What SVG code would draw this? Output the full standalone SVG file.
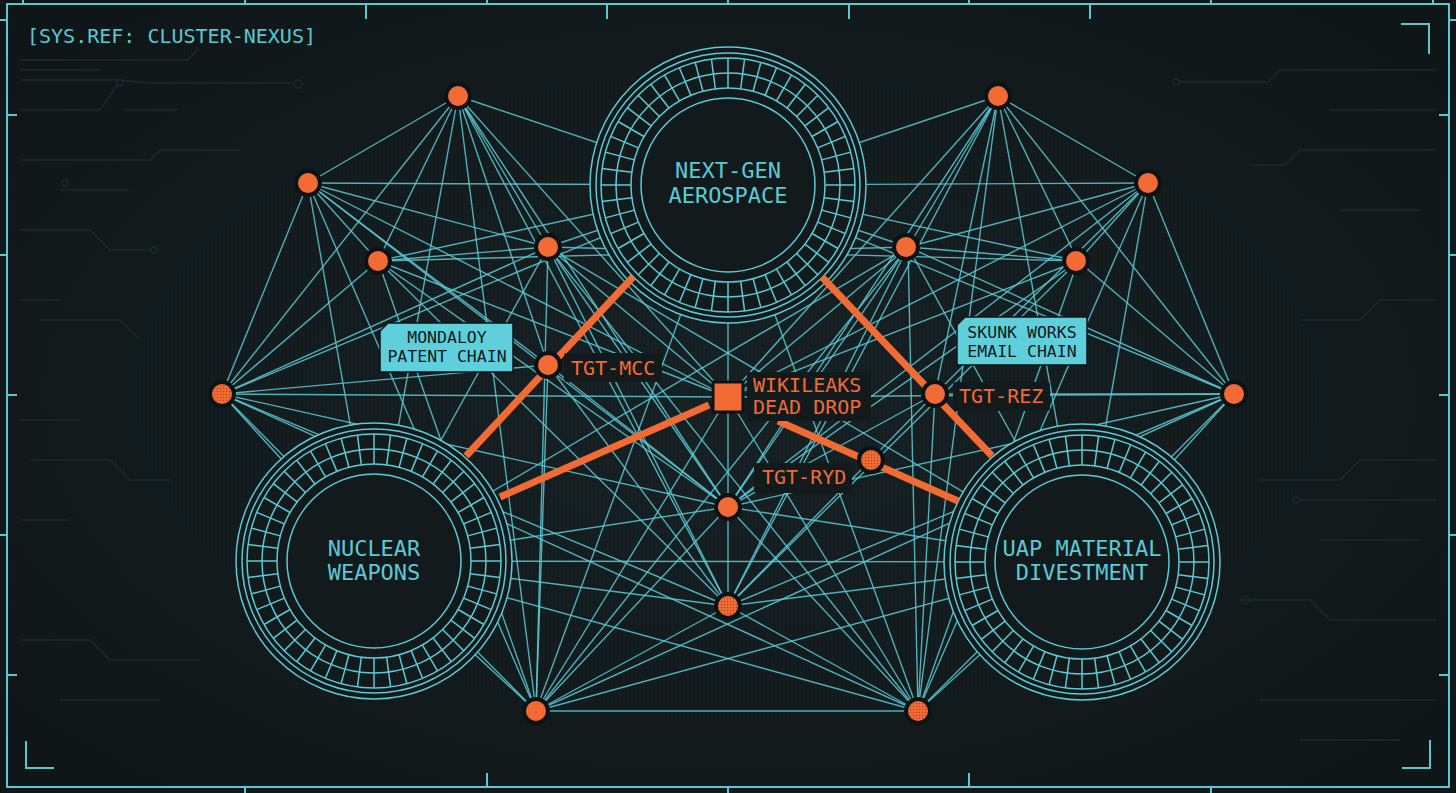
<svg xmlns="http://www.w3.org/2000/svg" xmlns:xlink="http://www.w3.org/1999/xlink" width="1456" height="793" viewBox="0 0 1456 793">
<defs>
<style>
.bd{fill:none;stroke:#5cc6d2;stroke-width:2}
.tr{fill:none;stroke:#1d2b2e;stroke-width:1.5}
.ln{stroke:#5ccad6;stroke-width:1.4;opacity:0.85}
.rg{fill:none;stroke:#5ccad6;stroke-width:1.5}
.rf{fill:#121a1c;stroke:#5ccad6;stroke-width:1.5}
.or{stroke:#f26b35;stroke-width:7;stroke-linecap:butt}
.nd{fill:#f26b35;stroke:#0d1315;stroke-width:4}
.tx{font-family:"DejaVu Sans Mono","Liberation Mono",monospace}
.t-ring{font-size:22px;fill:#5ccad6;text-anchor:middle}
.t-box{font-size:16.5px;fill:#0e1a1d;text-anchor:middle}
.t-or{font-size:20px;fill:#f26b35}
.t-sys{font-size:20px;fill:#5cc6d2}
.box{fill:#5fcfdb;stroke:#0d1315;stroke-width:1.5}
.dk{fill:#121a1c}
</style>
<radialGradient id="bgg" cx="50%" cy="50%" r="70%">
<stop offset="0" stop-color="#182224"/>
<stop offset="1" stop-color="#0f1618"/>
</radialGradient>
<pattern id="dots" width="4" height="4" patternUnits="userSpaceOnUse">
<circle cx="2" cy="2" r="0.8" fill="#070c0d" opacity="0.55"/>
</pattern>
<pattern id="ndots" width="3" height="3" patternUnits="userSpaceOnUse">
<circle cx="1.5" cy="1.5" r="0.7" fill="#7a2a10" opacity="0.6"/>
</pattern>
<line id="sk" x1="0" y1="-97" x2="0" y2="-127" class="rg" stroke-width="1.2"/>
<g id="ring">
<circle r="138" class="rf"/>
<circle r="132" class="rg"/>
<circle r="127" class="rg"/>
<circle r="112" class="rg" stroke-width="1.2"/>
<circle r="97" class="rg"/>
<circle r="87" class="rg" stroke-width="2.5"/>
<use href="#sk"/><use href="#sk" transform="rotate(7.5)"/><use href="#sk" transform="rotate(15)"/><use href="#sk" transform="rotate(22.5)"/>
<use href="#sk" transform="rotate(30)"/><use href="#sk" transform="rotate(37.5)"/><use href="#sk" transform="rotate(45)"/><use href="#sk" transform="rotate(52.5)"/>
<use href="#sk" transform="rotate(60)"/><use href="#sk" transform="rotate(67.5)"/><use href="#sk" transform="rotate(75)"/><use href="#sk" transform="rotate(82.5)"/>
<use href="#sk" transform="rotate(90)"/><use href="#sk" transform="rotate(97.5)"/><use href="#sk" transform="rotate(105)"/><use href="#sk" transform="rotate(112.5)"/>
<use href="#sk" transform="rotate(120)"/><use href="#sk" transform="rotate(127.5)"/><use href="#sk" transform="rotate(135)"/><use href="#sk" transform="rotate(142.5)"/>
<use href="#sk" transform="rotate(150)"/><use href="#sk" transform="rotate(157.5)"/><use href="#sk" transform="rotate(165)"/><use href="#sk" transform="rotate(172.5)"/>
<use href="#sk" transform="rotate(180)"/><use href="#sk" transform="rotate(187.5)"/><use href="#sk" transform="rotate(195)"/><use href="#sk" transform="rotate(202.5)"/>
<use href="#sk" transform="rotate(210)"/><use href="#sk" transform="rotate(217.5)"/><use href="#sk" transform="rotate(225)"/><use href="#sk" transform="rotate(232.5)"/>
<use href="#sk" transform="rotate(240)"/><use href="#sk" transform="rotate(247.5)"/><use href="#sk" transform="rotate(255)"/><use href="#sk" transform="rotate(262.5)"/>
<use href="#sk" transform="rotate(270)"/><use href="#sk" transform="rotate(277.5)"/><use href="#sk" transform="rotate(285)"/><use href="#sk" transform="rotate(292.5)"/>
<use href="#sk" transform="rotate(300)"/><use href="#sk" transform="rotate(307.5)"/><use href="#sk" transform="rotate(315)"/><use href="#sk" transform="rotate(322.5)"/>
<use href="#sk" transform="rotate(330)"/><use href="#sk" transform="rotate(337.5)"/><use href="#sk" transform="rotate(345)"/><use href="#sk" transform="rotate(352.5)"/>
</g>
</defs>

<g id="background">
<rect width="1456" height="793" fill="url(#bgg)"/>
<rect width="1456" height="793" fill="url(#dots)"/>
<path class="tr" d="M20 60 H188 L198 48 M20 70 H102 M20 80 H118 L148 83 H292 M118 84 L100 110 H20 M124 110 H178 M20 160 H150 L160 150 H240 M60 190 H130 M20 230 H90 L110 250 H150 M20 300 H60 M40 320 H120 L140 340 M20 420 H80 M30 460 H110 L130 480 H170 M20 520 H70 M20 640 H90 L110 660 H200 M60 700 H160"/>
<circle class="tr" cx="298" cy="84" r="4"/><circle class="tr" cx="120" cy="83" r="3"/><circle class="tr" cx="65" cy="183" r="3"/><circle class="tr" cx="154" cy="250" r="3"/>
<path class="tr" d="M1436 70 H1280 L1268 82 H1180 M1436 110 H1330 M1436 150 H1300 L1285 165 H1250 M1420 210 H1340 M1436 300 H1380 L1360 320 H1300 M1436 460 H1360 L1340 480 H1260 M1436 500 H1300 M1420 540 H1320 M1436 620 H1330 L1310 600 H1240 M1436 700 H1260 M1400 740 H1300"/>
<circle class="tr" cx="1245" cy="600" r="4"/><circle class="tr" cx="1296" cy="500" r="3"/><circle class="tr" cx="1176" cy="82" r="3"/>
</g>

<g id="frame">
<rect class="bd" x="7" y="4" width="1442" height="783"/>
<path class="bd" d="M23 0 V4 M245 0 V4 M487 0 V4 M728 0 V4 M969 0 V4 M1211 0 V4 M1433 0 V4 M366 4 V19 M607 4 V19 M849 4 V19 M1090 4 V19"/>
<path class="bd" d="M245 787 V793 M728 787 V793 M1211 787 V793 M487 787 V773 M969 787 V773"/>
<path class="bd" d="M0 20 H7 M0 255 H7 M0 535 H7 M7 115 H17 M7 395 H17 M7 675 H17"/>
<path class="bd" d="M1449 20 H1456 M1449 255 H1456 M1449 535 H1456 M1449 115 H1439 M1449 395 H1439 M1449 675 H1439"/>
<path class="bd" d="M1401 24 H1429 V54 M26 741 V768 H54 M1402 768 H1430 V740"/>
<text class="tx t-sys" x="27" y="43">[SYS.REF: CLUSTER-NEXUS]</text>
</g>

<g id="connectors">
<line class="ln" x1="458" y1="96" x2="308" y2="183"/><line class="ln" x1="998" y1="96" x2="1148" y2="183"/>
<line class="ln" x1="458" y1="96" x2="378" y2="261"/><line class="ln" x1="998" y1="96" x2="1078" y2="261"/>
<line class="ln" x1="458" y1="96" x2="548" y2="247"/><line class="ln" x1="998" y1="96" x2="908" y2="247"/>
<line class="ln" x1="458" y1="96" x2="222" y2="394"/><line class="ln" x1="998" y1="96" x2="1234" y2="394"/>
<line class="ln" x1="458" y1="96" x2="728" y2="397"/><line class="ln" x1="998" y1="96" x2="728" y2="397"/>
<line class="ln" x1="458" y1="96" x2="728" y2="507"/><line class="ln" x1="998" y1="96" x2="728" y2="507"/>
<line class="ln" x1="458" y1="96" x2="536" y2="711"/><line class="ln" x1="998" y1="96" x2="918" y2="711"/>
<line class="ln" x1="458" y1="96" x2="374" y2="561"/><line class="ln" x1="998" y1="96" x2="1082" y2="562"/>
<line class="ln" x1="458" y1="96" x2="728" y2="606"/><line class="ln" x1="998" y1="96" x2="728" y2="606"/>
<line class="ln" x1="458" y1="96" x2="908" y2="247"/><line class="ln" x1="998" y1="96" x2="548" y2="247"/>
<line class="ln" x1="458" y1="96" x2="548" y2="365"/><line class="ln" x1="998" y1="96" x2="935" y2="394"/>
<line class="ln" x1="308" y1="183" x2="378" y2="261"/><line class="ln" x1="1148" y1="183" x2="1078" y2="261"/>
<line class="ln" x1="308" y1="183" x2="548" y2="247"/><line class="ln" x1="1148" y1="183" x2="908" y2="247"/>
<line class="ln" x1="308" y1="183" x2="222" y2="394"/><line class="ln" x1="1148" y1="183" x2="1234" y2="394"/>
<line class="ln" x1="308" y1="183" x2="728" y2="397"/><line class="ln" x1="1148" y1="183" x2="728" y2="397"/>
<line class="ln" x1="308" y1="183" x2="728" y2="507"/><line class="ln" x1="1148" y1="183" x2="728" y2="507"/>
<line class="ln" x1="308" y1="183" x2="374" y2="561"/><line class="ln" x1="1148" y1="183" x2="1082" y2="562"/>
<line class="ln" x1="308" y1="183" x2="728" y2="185"/><line class="ln" x1="1148" y1="183" x2="728" y2="185"/>
<line class="ln" x1="308" y1="183" x2="548" y2="365"/><line class="ln" x1="1148" y1="183" x2="935" y2="394"/>
<line class="ln" x1="308" y1="183" x2="536" y2="711"/><line class="ln" x1="1148" y1="183" x2="918" y2="711"/>
<line class="ln" x1="378" y1="261" x2="548" y2="247"/><line class="ln" x1="1078" y1="261" x2="908" y2="247"/>
<line class="ln" x1="378" y1="261" x2="222" y2="394"/><line class="ln" x1="1078" y1="261" x2="1234" y2="394"/>
<line class="ln" x1="378" y1="261" x2="728" y2="397"/><line class="ln" x1="1078" y1="261" x2="728" y2="397"/>
<line class="ln" x1="378" y1="261" x2="728" y2="507"/><line class="ln" x1="1078" y1="261" x2="728" y2="507"/>
<line class="ln" x1="378" y1="261" x2="536" y2="711"/><line class="ln" x1="1078" y1="261" x2="918" y2="711"/>
<line class="ln" x1="378" y1="261" x2="728" y2="185"/><line class="ln" x1="1078" y1="261" x2="728" y2="185"/>
<line class="ln" x1="378" y1="261" x2="908" y2="247"/><line class="ln" x1="1078" y1="261" x2="548" y2="247"/>
<line class="ln" x1="378" y1="261" x2="728" y2="606"/><line class="ln" x1="1078" y1="261" x2="728" y2="606"/>
<line class="ln" x1="548" y1="247" x2="222" y2="394"/><line class="ln" x1="908" y1="247" x2="1234" y2="394"/>
<line class="ln" x1="548" y1="247" x2="728" y2="397"/><line class="ln" x1="908" y1="247" x2="728" y2="397"/>
<line class="ln" x1="548" y1="247" x2="728" y2="507"/><line class="ln" x1="908" y1="247" x2="728" y2="507"/>
<line class="ln" x1="548" y1="247" x2="728" y2="606"/><line class="ln" x1="908" y1="247" x2="728" y2="606"/>
<line class="ln" x1="548" y1="247" x2="536" y2="711"/><line class="ln" x1="908" y1="247" x2="918" y2="711"/>
<line class="ln" x1="548" y1="247" x2="918" y2="711"/><line class="ln" x1="908" y1="247" x2="536" y2="711"/>
<line class="ln" x1="548" y1="247" x2="374" y2="561"/><line class="ln" x1="908" y1="247" x2="1082" y2="562"/>
<line class="ln" x1="548" y1="247" x2="1082" y2="562"/><line class="ln" x1="908" y1="247" x2="374" y2="561"/>
<line class="ln" x1="222" y1="394" x2="548" y2="365"/><line class="ln" x1="1234" y1="394" x2="935" y2="394"/>
<line class="ln" x1="222" y1="394" x2="728" y2="397"/><line class="ln" x1="1234" y1="394" x2="728" y2="397"/>
<line class="ln" x1="222" y1="394" x2="728" y2="507"/><line class="ln" x1="1234" y1="394" x2="728" y2="507"/>
<line class="ln" x1="222" y1="394" x2="728" y2="606"/><line class="ln" x1="1234" y1="394" x2="728" y2="606"/>
<line class="ln" x1="222" y1="394" x2="536" y2="711"/><line class="ln" x1="1234" y1="394" x2="918" y2="711"/>
<line class="ln" x1="222" y1="394" x2="918" y2="711"/><line class="ln" x1="1234" y1="394" x2="536" y2="711"/>
<line class="ln" x1="222" y1="394" x2="728" y2="185"/><line class="ln" x1="1234" y1="394" x2="728" y2="185"/>
<line class="ln" x1="222" y1="394" x2="374" y2="561"/><line class="ln" x1="1234" y1="394" x2="1082" y2="562"/>
<line class="ln" x1="536" y1="711" x2="918" y2="711"/>
<line class="ln" x1="536" y1="711" x2="728" y2="507"/><line class="ln" x1="918" y1="711" x2="728" y2="507"/>
<line class="ln" x1="536" y1="711" x2="728" y2="606"/><line class="ln" x1="918" y1="711" x2="728" y2="606"/>
<line class="ln" x1="536" y1="711" x2="728" y2="397"/><line class="ln" x1="918" y1="711" x2="728" y2="397"/>
<line class="ln" x1="536" y1="711" x2="548" y2="365"/><line class="ln" x1="918" y1="711" x2="935" y2="394"/>
<line class="ln" x1="536" y1="711" x2="728" y2="185"/><line class="ln" x1="918" y1="711" x2="728" y2="185"/>
<line class="ln" x1="536" y1="711" x2="1082" y2="562"/><line class="ln" x1="918" y1="711" x2="374" y2="561"/>
<line class="ln" x1="536" y1="711" x2="374" y2="561"/><line class="ln" x1="918" y1="711" x2="1082" y2="562"/>
<line class="ln" x1="728" y1="397" x2="728" y2="507"/>
<line class="ln" x1="728" y1="507" x2="728" y2="606"/>
<line class="ln" x1="728" y1="397" x2="728" y2="185"/>
<line class="ln" x1="548" y1="365" x2="728" y2="507"/><line class="ln" x1="935" y1="394" x2="728" y2="507"/>
<line class="ln" x1="548" y1="365" x2="728" y2="606"/><line class="ln" x1="935" y1="394" x2="728" y2="606"/>
<line class="ln" x1="548" y1="365" x2="728" y2="185"/><line class="ln" x1="935" y1="394" x2="728" y2="185"/>
<line class="ln" x1="374" y1="561" x2="1082" y2="562"/>
<line class="ln" x1="728" y1="606" x2="374" y2="561"/><line class="ln" x1="728" y1="606" x2="1082" y2="562"/>
<line class="ln" x1="728" y1="507" x2="374" y2="561"/><line class="ln" x1="728" y1="507" x2="1082" y2="562"/>
</g>

<g id="ring-nextgen">
<use href="#ring" x="728" y="185"/>
<text class="tx t-ring" x="728" y="178">NEXT-GEN</text>
<text class="tx t-ring" x="728" y="203">AEROSPACE</text>
</g>
<g id="ring-nuclear">
<use href="#ring" x="374" y="561"/>
<text class="tx t-ring" x="374" y="556">NUCLEAR</text>
<text class="tx t-ring" x="374" y="580">WEAPONS</text>
</g>
<g id="ring-uap">
<use href="#ring" x="1082" y="562"/>
<text class="tx t-ring" x="1082" y="556">UAP MATERIAL</text>
<text class="tx t-ring" x="1082" y="580">DIVESTMENT</text>
</g>

<g id="orange-links">
<line class="or" x1="633" y1="277" x2="466" y2="456"/>
<line class="or" x1="822" y1="277" x2="992" y2="456"/>
<line class="or" x1="500" y1="497" x2="709" y2="405"/>
<line class="or" x1="778" y1="421" x2="958" y2="501"/>
</g>

<g id="label-mondaloy">
<polygon class="box" points="388,323 513,323 513,372 380,372 380,331"/>
<text class="tx t-box" x="447" y="343">MONDALOY</text>
<text class="tx t-box" x="447" y="362">PATENT CHAIN</text>
</g>
<g id="label-skunk">
<polygon class="box" points="965,317 1087,317 1087,365 957,365 957,325"/>
<text class="tx t-box" x="1022" y="338">SKUNK WORKS</text>
<text class="tx t-box" x="1022" y="357">EMAIL CHAIN</text>
</g>

<g id="node-mcc">
<rect class="dk" x="564" y="353" width="98" height="29" rx="3"/>
<circle class="nd" cx="548" cy="365" r="12"/>
<text class="tx t-or" x="571" y="375">TGT-MCC</text>
</g>
<g id="node-wikileaks">
<rect class="dk" x="747" y="372" width="124" height="49" rx="3"/>
<rect x="713" y="382" width="30" height="30" fill="#f26b35" stroke="#0d1315" stroke-width="3"/>
<text class="tx t-or" x="753" y="392">WIKILEAKS</text>
<text class="tx t-or" x="753" y="414">DEAD DROP</text>
</g>
<g id="node-rez">
<rect class="dk" x="953" y="382" width="97" height="29" rx="3"/>
<circle class="nd" cx="935" cy="394" r="12"/>
<text class="tx t-or" x="959" y="403">TGT-REZ</text>
</g>
<g id="node-ryd">
<rect class="dk" x="754" y="463" width="98" height="30" rx="3"/>
<circle class="nd" cx="871" cy="460" r="12"/>
<circle cx="871" cy="460" r="10" fill="url(#ndots)"/>
<text class="tx t-or" x="762" y="484">TGT-RYD</text>
</g>

<g id="nodes">
<g id="n-a"><circle class="nd" cx="458" cy="96" r="12"/></g>
<g id="n-b"><circle class="nd" cx="308" cy="183" r="12"/></g>
<g id="n-c"><circle class="nd" cx="378" cy="261" r="12"/></g>
<g id="n-d"><circle class="nd" cx="548" cy="247" r="12"/></g>
<g id="n-e"><circle class="nd" cx="222" cy="394" r="12"/><circle cx="222" cy="394" r="10" fill="url(#ndots)"/></g>
<g id="n-g"><circle class="nd" cx="728" cy="507" r="12"/></g>
<g id="n-h"><circle class="nd" cx="728" cy="606" r="12"/><circle cx="728" cy="606" r="10" fill="url(#ndots)"/></g>
<g id="n-i"><circle class="nd" cx="536" cy="711" r="12"/></g>
<g id="n-j"><circle class="nd" cx="918" cy="711" r="12"/><circle cx="918" cy="711" r="10" fill="url(#ndots)"/></g>
<g id="n-k"><circle class="nd" cx="998" cy="96" r="12"/></g>
<g id="n-l"><circle class="nd" cx="1148" cy="183" r="12"/></g>
<g id="n-m"><circle class="nd" cx="906" cy="247" r="12"/></g>
<g id="n-n"><circle class="nd" cx="1076" cy="261" r="12"/></g>
<g id="n-o"><circle class="nd" cx="1234" cy="394" r="12"/></g>
</g>
</svg>
